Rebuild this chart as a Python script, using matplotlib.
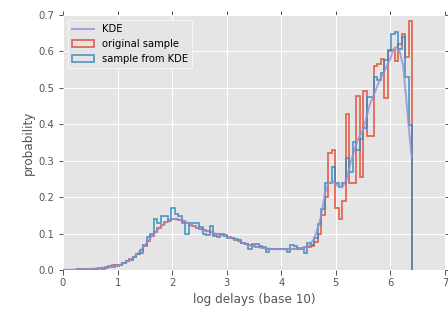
import numpy as np
import matplotlib
matplotlib.use("Agg")
import matplotlib.pyplot as plt

# ---------------- data ----------------
bin_lo, bin_hi, n_bins = 0.0, 6.4, 100

original_sample = [
    0.0, 0.001, 0.001, 0.001, 0.002, 0.002, 0.002, 0.003, 0.003, 0.004,
    0.005, 0.006, 0.007, 0.012, 0.013, 0.012, 0.015, 0.019, 0.024, 0.030,
    0.036, 0.045, 0.056, 0.067, 0.080, 0.093, 0.104, 0.115, 0.124, 0.131,
    0.136, 0.140, 0.141, 0.138, 0.134, 0.129, 0.124, 0.120, 0.116, 0.112,
    0.109, 0.106, 0.103, 0.100, 0.098, 0.096, 0.093, 0.090, 0.087, 0.083,
    0.079, 0.075, 0.071, 0.068, 0.066, 0.064, 0.062, 0.060, 0.059, 0.058,
    0.057, 0.057, 0.057, 0.057, 0.057, 0.058, 0.058, 0.060, 0.061, 0.062,
    0.063, 0.065, 0.078, 0.100, 0.150, 0.200, 0.320, 0.330, 0.170, 0.140,
    0.190, 0.427, 0.238, 0.238, 0.478, 0.256, 0.491, 0.368, 0.368, 0.560,
    0.565, 0.578, 0.473, 0.601, 0.604, 0.574, 0.620, 0.648, 0.585, 0.684,
]

sample_from_kde = [
    0.0, 0.0, 0.001, 0.001, 0.002, 0.001, 0.003, 0.002, 0.004, 0.003,
    0.005, 0.004, 0.006, 0.007, 0.009, 0.013, 0.014, 0.020, 0.025, 0.028,
    0.037, 0.043, 0.048, 0.070, 0.091, 0.100, 0.139, 0.128, 0.148, 0.148,
    0.135, 0.169, 0.155, 0.148, 0.128, 0.100, 0.128, 0.128, 0.130, 0.118,
    0.100, 0.096, 0.120, 0.092, 0.090, 0.100, 0.096, 0.087, 0.088, 0.084,
    0.082, 0.073, 0.072, 0.059, 0.071, 0.071, 0.066, 0.062, 0.050, 0.059,
    0.059, 0.058, 0.059, 0.059, 0.050, 0.069, 0.066, 0.059, 0.059, 0.046,
    0.073, 0.068, 0.087, 0.125, 0.167, 0.240, 0.240, 0.284, 0.240, 0.227,
    0.240, 0.307, 0.270, 0.352, 0.330, 0.360, 0.390, 0.476, 0.476, 0.530,
    0.521, 0.540, 0.576, 0.604, 0.648, 0.652, 0.608, 0.640, 0.530, 0.398,
]

kde_x = [0.0, 0.2, 0.4, 0.6, 0.8, 1.0, 1.1, 1.2, 1.3, 1.4, 1.5, 1.6, 1.7,
         1.8, 1.9, 2.0, 2.1, 2.2, 2.3, 2.4, 2.5, 2.6, 2.7, 2.8, 2.9, 3.0,
         3.1, 3.2, 3.3, 3.4, 3.5, 3.6, 3.7, 3.8, 3.9, 4.0, 4.1, 4.2, 4.3,
         4.4, 4.5, 4.6, 4.7, 4.75, 4.8, 4.86, 4.95, 5.05, 5.12, 5.2, 5.28,
         5.4, 5.5, 5.62, 5.8, 6.0, 6.05, 6.1, 6.17, 6.23, 6.29, 6.33, 6.39]
kde_y = [0.0, 0.001, 0.002, 0.004, 0.007, 0.012, 0.017, 0.025, 0.035, 0.050,
         0.068, 0.087, 0.105, 0.120, 0.132, 0.139, 0.140, 0.136, 0.128,
         0.120, 0.113, 0.108, 0.104, 0.100, 0.096, 0.092, 0.087, 0.081,
         0.074, 0.068, 0.065, 0.062, 0.060, 0.058, 0.057, 0.057, 0.057,
         0.058, 0.059, 0.060, 0.066, 0.085, 0.130, 0.165, 0.210, 0.238,
         0.243, 0.229, 0.228, 0.250, 0.300, 0.357, 0.384, 0.453, 0.520,
         0.580, 0.605, 0.612, 0.600, 0.563, 0.470, 0.400, 0.310]

x_ticks = [0, 1, 2, 3, 4, 5, 6, 7]
y_ticks = [0.0, 0.1, 0.2, 0.3, 0.4, 0.5, 0.6, 0.7]

# ---------------- figure ----------------
DPI = 72
fig = plt.figure(figsize=(448 / DPI, 314 / DPI), dpi=DPI)
ax = fig.add_axes([63 / 448, 44 / 314, 382 / 448, 255 / 314])
ax.set_facecolor("#E5E5E5")
for s in ax.spines.values():
    s.set_visible(False)
ax.grid(True, color="white", linewidth=1.0)
ax.set_axisbelow(True)

edges = np.linspace(bin_lo, bin_hi, n_bins + 1)
left_edges = edges[:-1]

ax.plot(kde_x, kde_y, color="#988ED5", lw=2.0, alpha=0.8, label="KDE",
        zorder=3)
ax.hist(left_edges, bins=edges, weights=original_sample, histtype="step",
        color="#E24A33", lw=1.7, alpha=0.85, label="original sample")
ax.hist(left_edges, bins=edges, weights=sample_from_kde, histtype="step",
        color="#348ABD", lw=1.7, alpha=0.85, label="sample from KDE")

ax.set_xlim(0, 7)
ax.set_ylim(0, 0.7)
ax.set_xticks(x_ticks)
ax.set_yticks(y_ticks)
ax.set_xticklabels([str(t) for t in x_ticks])
ax.set_yticklabels([f"{t:.1f}" for t in y_ticks])
ax.tick_params(direction="out", length=4.5, width=1, color="#555555",
               labelcolor="#555555", labelsize=10, top=True, right=True,
               pad=4)

ax.set_xlabel("log delays (base 10)", fontsize=12, color="#555555")
ax.set_ylabel("probability", fontsize=12, color="#555555")

leg = ax.legend(loc="upper left", fontsize=10, frameon=True, fancybox=False,
                borderaxespad=0.5, handlelength=2.2)
leg.get_frame().set_facecolor("#E5E5E5")
leg.get_frame().set_edgecolor("#F4F4F4")
leg.get_frame().set_linewidth(1.0)
leg.get_frame().set_alpha(1.0)

fig.savefig("out.png", dpi=DPI)
